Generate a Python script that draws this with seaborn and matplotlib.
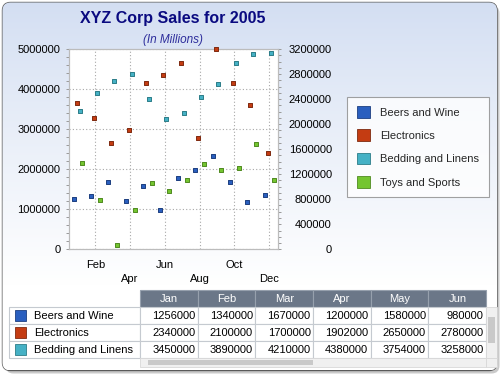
import numpy as np
import pandas as pd
import matplotlib
matplotlib.use("Agg")
import matplotlib.pyplot as plt
import seaborn as sns
from matplotlib.patches import Rectangle, FancyBboxPatch, Patch
from matplotlib.ticker import MultipleLocator, StrMethodFormatter, FixedLocator

# ---------------- data ----------------
months = ["Jan", "Feb", "Mar", "Apr", "May", "Jun",
          "Jul", "Aug", "Sep", "Oct", "Nov", "Dec"]
series_names = ["Beers and Wine", "Electronics", "Bedding and Linens", "Toys and Sports"]
beers = [1256000, 1340000, 1670000, 1200000, 1580000, 980000,
         1790000, 1985000, 2330000, 1690000, 1190000, 1360000]
electronics = [2340000, 2100000, 1700000, 1902000, 2650000, 2780000,
               2980000, 1780000, 3200000, 2660000, 2310000, 1540000]
bedding = [3450000, 3890000, 4210000, 4380000, 3754000, 3258000,
           3405000, 3800000, 4120000, 4650000, 4875000, 4900000]
toys = [2150000, 1220000, 100000, 970000, 1660000, 1450000,
        1740000, 2140000, 1990000, 2020000, 2640000, 1740000]
table_months = months[:6]
table_series = series_names[:3]

# ---------------- style ----------------
sns.set_theme(style="white")
plt.rcParams["font.family"] = ["Liberation Sans", "DejaVu Sans"]

fill = {"Beers and Wine": "#2a5fbf", "Electronics": "#c43c12",
        "Bedding and Linens": "#45b1c5", "Toys and Sports": "#74c530"}
edge = {"Beers and Wine": "#1d3f80", "Electronics": "#7e2a10",
        "Bedding and Linens": "#2c7d88", "Toys and Sports": "#4f8a20"}
offsets = {"Beers and Wine": -0.25, "Electronics": -0.08,
           "Bedding and Linens": 0.09, "Toys and Sports": 0.26}
values = {"Beers and Wine": beers, "Electronics": electronics,
          "Bedding and Linens": bedding, "Toys and Sports": toys}
right_axis = {"Electronics"}

rows = []
for name in series_names:
    for i, v in enumerate(values[name]):
        rows.append({"series": name, "month": months[i], "idx": i,
                     "pos": i + offsets[name], "value": v})
df = pd.DataFrame(rows)

W, H = 503, 378
fig = plt.figure(figsize=(W / 100, H / 100), dpi=100)
fig.patch.set_facecolor("white")

# background with gradient and rounded frame
bg = fig.add_axes([0, 0, 1, 1], zorder=-10)
bg.set_xlim(0, W)
bg.set_ylim(H, 0)
bg.axis("off")
shadow = FancyBboxPatch((5.5, 5.5), 494, 368, boxstyle="round,pad=0,rounding_size=8",
                        facecolor="#a8a8a8", edgecolor="none", alpha=0.6)
bg.add_patch(shadow)
frame = FancyBboxPatch((2.5, 2.5), 494.5, 368, boxstyle="round,pad=0,rounding_size=8",
                       facecolor="white", edgecolor="#5a5a5a", linewidth=1.0)
bg.add_patch(frame)
top = np.array([0.827, 0.871, 0.949])
bot = np.array([1.0, 1.0, 1.0])
t = np.clip(np.linspace(0, 1, 300) * 1.3, 0, 1)[:, None] ** 0.9
grad = (top[None, :] * (1 - t) + bot[None, :] * t)[:, None, :]
im = bg.imshow(grad, extent=(2.5, 497, 370.5, 2.5), aspect="auto", zorder=1)
im.set_clip_path(frame)

# ---------------- main plot ----------------
ax = fig.add_axes([69.3 / W, 1 - 249.3 / H, (277.7 - 69.3) / W, (249.3 - 49.0) / H])
ax.set_facecolor("white")
ax2 = ax.twinx()

for name in series_names:
    target = ax2 if name in right_axis else ax
    sub = df[df["series"] == name]
    sns.scatterplot(data=sub, x="pos", y="value", ax=target, marker="s",
                    s=12 if name == "Toys and Sports" else 9,
                    color=fill[name], edgecolor=edge[name], linewidth=0.7,
                    legend=False, zorder=5, clip_on=False)

ax.set_xlim(-0.5, 11.5)
ax.set_ylim(0, 5000000)
ax2.set_ylim(0, 3200000)
ax.yaxis.set_major_locator(MultipleLocator(1000000))
ax.yaxis.set_minor_locator(MultipleLocator(200000))
ax2.yaxis.set_major_locator(MultipleLocator(400000))
ax2.yaxis.set_minor_locator(MultipleLocator(100000))
ax.yaxis.set_major_formatter(StrMethodFormatter("{x:.0f}"))
ax2.yaxis.set_major_formatter(StrMethodFormatter("{x:.0f}"))

tick_idx = list(range(1, 12, 2))
ax.xaxis.set_major_locator(FixedLocator(tick_idx))
ax.set_xticklabels([("" if k % 2 == 0 else "\n") + months[i] for k, i in enumerate(tick_idx)])
for lab in ax.get_xticklabels():
    lab.set_linespacing(1.5)

ax.set_xlabel("")
ax.set_ylabel("")
ax2.set_ylabel("")

ax.grid(True, which="major", color="#a8a8a8", linestyle=(0, (1, 2)), linewidth=0.8)
ax2.grid(False)

for a in (ax, ax2):
    for s in a.spines.values():
        s.set_color("#bcbcbc")
        s.set_linewidth(0.8)

ax.tick_params(axis="y", which="both", left=True, length=2, width=0.7,
               color="#9a9a9a", labelsize=8, pad=4.5, labelcolor="black", direction="out")
ax.tick_params(axis="x", which="both", length=0, labelsize=8, pad=7.5, labelcolor="black")
ax2.tick_params(axis="y", which="both", right=True, length=2, width=0.7,
                color="#9a9a9a", labelsize=8, pad=37, labelcolor="black", direction="out")
for lab in ax2.get_yticklabels():
    lab.set_horizontalalignment("right")

# titles
fig.text(173 / W, 1 - 19 / H, "XYZ Corp Sales for 2005", ha="center", va="center",
         fontsize=11.5, fontweight="bold", color="#0a0a80")
fig.text(173 / W, 1 - 39.5 / H, "(In Millions)", ha="center", va="center",
         fontsize=8.5, fontstyle="italic", color="#2e2e9c")

# legend
handles = [Patch(facecolor=fill[n], edgecolor=edge[n], linewidth=0.6) for n in series_names]
leg = fig.legend(handles, series_names, loc="upper left",
                 bbox_to_anchor=(347.3 / W, 1 - 96.7 / H), borderaxespad=0,
                 fontsize=8, frameon=True, fancybox=False, handlelength=1.2,
                 handleheight=1.2, handletextpad=0.9, labelspacing=1.07,
                 borderpad=0.85)
leg.get_frame().set_edgecolor("#8a8a8a")
leg.get_frame().set_linewidth(0.8)
leg.get_frame().set_facecolor("white")

# ---------------- data table ----------------
tb = fig.add_axes([0, 0, 1, 1], zorder=5)
tb.set_xlim(0, W)
tb.set_ylim(H, 0)
tb.axis("off")
col_x0, col_w = 140.0, 57.7
hdr_y0, hdr_h, row_h = 290.0, 16.7, 17.1
grid_c = "#c5cad0"
for j, m in enumerate(table_months):
    x0 = col_x0 + j * col_w
    tb.add_patch(Rectangle((x0, hdr_y0), col_w, hdr_h, facecolor="#6b7788",
                           edgecolor="#96a0ad", linewidth=0.8))
    tb.text(x0 + col_w / 2, hdr_y0 + hdr_h / 2 + 0.5, m, ha="center", va="center",
            fontsize=8, color="white")
for r, name in enumerate(table_series):
    y0 = hdr_y0 + hdr_h + r * row_h
    tb.add_patch(Rectangle((9.3, y0), col_x0 - 9.3, row_h, facecolor="white",
                           edgecolor=grid_c, linewidth=0.8))
    tb.add_patch(Rectangle((15.2, y0 + 3.2), 11, 11, facecolor=fill[name],
                           edgecolor=edge[name], linewidth=0.6))
    tb.text(34, y0 + row_h / 2 + 0.5, name, ha="left", va="center", fontsize=8, color="black")
    for j in range(len(table_months)):
        x0 = col_x0 + j * col_w
        tb.add_patch(Rectangle((x0, y0), col_w, row_h, facecolor="white",
                               edgecolor=grid_c, linewidth=0.8))
        tb.text(x0 + col_w - 2.5, y0 + row_h / 2 + 0.5, str(values[name][j]),
                ha="right", va="center", fontsize=8, color="black")
# scrollbars
sb_y0 = hdr_y0 + hdr_h + 3 * row_h
tb.add_patch(Rectangle((col_x0, sb_y0), 6 * col_w, 9, facecolor="#f0f0f0",
                       edgecolor="#d8d8d8", linewidth=0.6))
tb.add_patch(Rectangle((148, sb_y0 + 2), 165, 5, facecolor="#c9c9c9", edgecolor="none"))
vx0 = col_x0 + 6 * col_w
tb.add_patch(Rectangle((vx0, hdr_y0 + hdr_h), 10.5, 3 * row_h, facecolor="#f0f0f0",
                       edgecolor="#d8d8d8", linewidth=0.6))
tb.add_patch(Rectangle((vx0 + 2, 317), 6.5, 26, facecolor="#c9c9c9", edgecolor="none"))
tb.add_patch(Rectangle((vx0, sb_y0), 10.5, 9, facecolor="#f0f0f0",
                       edgecolor="#d8d8d8", linewidth=0.6))

fig.savefig("out.png", dpi=100)
